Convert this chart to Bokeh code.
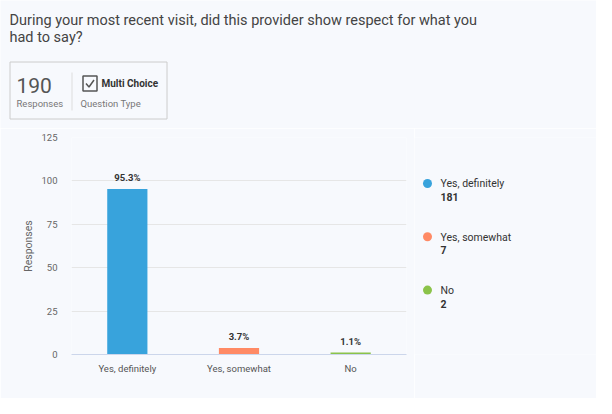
from bokeh.plotting import figure
from bokeh.layouts import column, row
from bokeh.models import ColumnDataSource, Range1d, FactorRange
from bokeh.core.properties import value
from bokeh.embed import file_html
from bokeh.resources import INLINE

categories = ["Yes, definitely", "Yes, somewhat", "No"]
percents = [95.3, 3.7, 1.1]
counts = [181, 7, 2]
colors = ["#38a3dc", "#ff8a65", "#8bc34a"]
y_ticks = [0, 25, 50, 75, 100, 125]
title_lines = ["During your most recent visit, did this provider show respect for what you",
               "had to say?"]
total_responses = 190
question_type = "Multi Choice"

W, H = 596, 398
HEAD_H = 128
CHART_W = 414
F_TOP, F_BOT = 137, 354          # chart frame (page coords)
BG = "#f7f9fd"
FONT = "Roboto"


def blank(width, height, x0, x1, y0, y1, top=0, bottom=0):
    f = figure(width=width, height=height, x_range=Range1d(x0, x1), y_range=Range1d(y1, y0),
               output_backend="svg", toolbar_location=None,
               x_axis_location=None, y_axis_location=None, min_border=0,
               min_border_top=top, min_border_bottom=bottom)
    f.background_fill_color = BG
    f.border_fill_color = BG
    f.outline_line_color = None
    f.grid.visible = False
    return f


def txt(f, x, y, text, size, color, bold=False, font=FONT, align="left"):
    # y is the wanted alphabetic baseline; compensate Bokeh's text box offset
    f.text(x=[x], y=[y - 0.35 * size], text=[text], text_font=value(font),
           text_font_size=f"{size}px", text_color=color, text_baseline="alphabetic",
           text_align=align, text_font_style="bold" if bold else "normal")


# ---------------- header ----------------
head = blank(W, HEAD_H, 0, W, 0, HEAD_H)
txt(head, 9, 25, title_lines[0], 14.5, "#444444")
txt(head, 9, 42, title_lines[1], 14.5, "#444444")
head.quad(left=[9.5], right=[166.5], top=[61.5], bottom=[118.5], fill_color=None,
          line_color="#cccccc", line_width=1)
head.segment(x0=[71.5], x1=[71.5], y0=[72], y1=[110], line_color="#dddddd", line_width=1)
txt(head, 16, 92, str(total_responses), 21, "#555555")
txt(head, 16, 106, "Responses", 9.5, "#777777")
head.quad(left=[82.5], right=[96.5], top=[75.5], bottom=[90.5], fill_color=None,
          line_color="#555555", line_width=1.5)
head.line(x=[85.5, 88.5, 93.5], y=[83, 86.5, 79.5], line_color="#555555", line_width=1.5)
txt(head, 101, 86, question_type, 10, "#333333", bold=True)
txt(head, 80, 106, "Question Type", 9.5, "#777777")

# ---------------- chart ----------------
p = figure(width=CHART_W, height=H - HEAD_H, x_range=FactorRange(factors=categories),
           y_range=Range1d(0, 125), output_backend="svg", toolbar_location=None,
           min_border_left=71, min_border_right=8, min_border_top=F_TOP - HEAD_H,
           min_border_bottom=H - F_BOT)
p.background_fill_color = BG
p.border_fill_color = BG
p.outline_line_color = None

src = ColumnDataSource(dict(cat=categories, pct=percents, color=colors,
                            lbl=[f"{v}%" for v in percents]))
p.vbar(x="cat", top="pct", width=0.36, fill_color="color", line_color=None, source=src)
p.text(x="cat", y="pct", text="lbl", source=src, text_align="center",
       text_baseline="bottom", y_offset=-6, text_font=value(FONT),
       text_font_style="bold", text_font_size="9.5px", text_color="#333333")

p.yaxis.ticker = y_ticks
p.yaxis.axis_line_color = None
p.yaxis.major_tick_line_color = None
p.yaxis.minor_tick_line_color = None
p.yaxis.major_label_text_font = FONT
p.yaxis.major_label_text_font_size = "9.5px"
p.yaxis.major_label_text_color = "#666666"
p.yaxis.major_label_standoff = 8
p.yaxis.axis_label = "Responses"
p.yaxis.axis_label_text_font = FONT
p.yaxis.axis_label_text_font_style = "normal"
p.yaxis.axis_label_text_font_size = "10.5px"
p.yaxis.axis_label_text_color = "#666666"
p.yaxis.axis_label_standoff = 3

p.xaxis.axis_line_color = "#ccd6eb"
p.xaxis.major_tick_line_color = None
p.xaxis.minor_tick_line_color = None
p.xaxis.major_label_text_font = FONT
p.xaxis.major_label_text_font_size = "9.5px"
p.xaxis.major_label_text_color = "#555555"
p.xaxis.major_label_standoff = 2

p.xgrid.grid_line_color = None
p.ygrid.grid_line_color = "#e6e6e6"

# ---------------- legend ----------------
leg = blank(W - CHART_W, H - HEAD_H, CHART_W, W, F_TOP, F_BOT,
            top=F_TOP - HEAD_H, bottom=H - F_BOT)
LEG_Y0, LEG_DY = 183, 53.3
for i, (cat, cnt, col) in enumerate(zip(categories, counts, colors)):
    cy = LEG_Y0 + i * LEG_DY
    leg.scatter(x=[427], y=[cy], size=9, fill_color=col, line_color=None)
    txt(leg, 440, cy + 4, cat, 10.5, "#333333")
    txt(leg, 440, cy + 17.3, str(cnt), 10.5, "#333333", bold=True)

layout = column(head, row(p, leg, spacing=0), spacing=0)
open("out.html", "w").write(file_html(layout, INLINE))
